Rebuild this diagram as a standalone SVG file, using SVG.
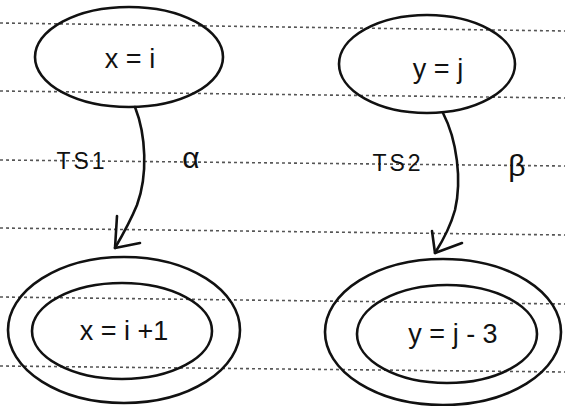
<svg xmlns="http://www.w3.org/2000/svg" width="565" height="406" viewBox="0 0 565 406">
<style>
.rule{stroke:#555;stroke-width:1.6;stroke-dasharray:3 3;fill:none}
.ell{fill:none;stroke:#111;stroke-width:2.6}
.lbl{font-family:"Liberation Sans","DejaVu Sans",sans-serif;fill:#111;text-anchor:middle}
.node{font-size:27px}
.edge{font-size:23px;letter-spacing:3px}
.greek{font-size:30px}
.con{fill:none;stroke:#111;stroke-width:2.6;stroke-linecap:round;stroke-linejoin:round}
</style>
<rect width="565" height="406" fill="#fff"/>
<g id="rules">
<line class="rule" x1="0" y1="23" x2="565" y2="31"/>
<line class="rule" x1="0" y1="91" x2="565" y2="98"/>
<line class="rule" x1="0" y1="160" x2="565" y2="166"/>
<line class="rule" x1="0" y1="228" x2="565" y2="235"/>
<line class="rule" x1="0" y1="297" x2="565" y2="304"/>
<line class="rule" x1="0" y1="366" x2="565" y2="372"/>
</g>
<g id="n1">
<ellipse class="ell" cx="129" cy="57" rx="94" ry="50"/>
<text class="lbl node" x="130" y="68">x = i</text>
</g>
<g id="n2">
<ellipse class="ell" cx="427" cy="64" rx="88" ry="49"/>
<text class="lbl node" x="438" y="78">y = j</text>
</g>
<g id="n3">
<ellipse class="ell" cx="124" cy="330" rx="116" ry="73"/>
<ellipse class="ell" cx="122" cy="331" rx="90" ry="48"/>
<text class="lbl node" x="124" y="340">x = i +1</text>
</g>
<g id="n4">
<ellipse class="ell" cx="443" cy="332" rx="118" ry="73"/>
<ellipse class="ell" cx="447" cy="334" rx="90" ry="49"/>
<text class="lbl node" x="453" y="343">y = j - 3</text>
</g>
<g id="connectors">
<path class="con" d="M135,107 C146,135 148,175 137,205 C130,222 122,236 115,248"/>
<path class="con" d="M117,216 L115,248 L140,243"/>
<path class="con" d="M443,113 C457,140 462,180 455,210 C450,228 442,242 435,253"/>
<path class="con" d="M432,231 L435,253 L462,243"/>
<text class="lbl edge" x="82" y="169">TS1</text>
<text class="lbl greek" x="191" y="168">α</text>
<text class="lbl edge" x="398" y="171">TS2</text>
<text class="lbl greek" x="517" y="176">β</text>
</g>
</svg>
